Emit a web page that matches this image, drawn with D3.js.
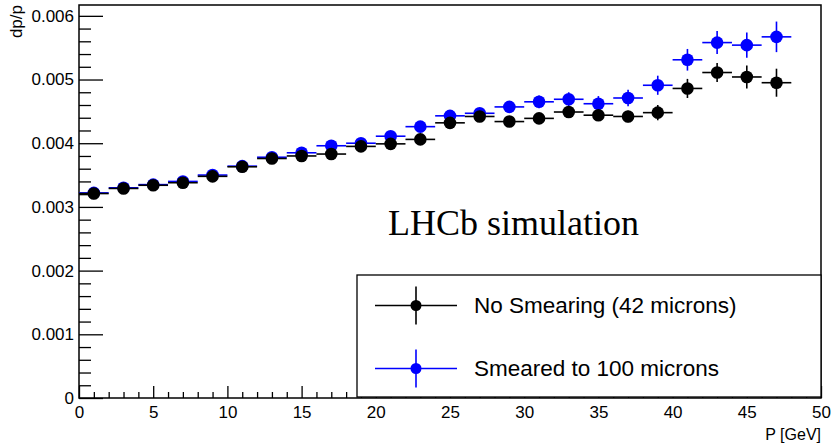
<!DOCTYPE html>
<html>
<head>
<meta charset="utf-8">
<script src="https://cdn.jsdelivr.net/npm/d3@7"></script>
<style>
  body { margin: 0; background: #fff; }
  svg { display: block; }
  .tick text { font-family: "Liberation Sans", Arial, sans-serif; fill: #000; }
</style>
</head>
<body>
<div id="chart"></div>
<script>
var width = 834;
var height = 445;

// bin centres (GeV), half width 1 GeV
var pCentres = [1, 3, 5, 7, 9, 11, 13, 15, 17, 19, 21, 23, 25, 27, 29, 31, 33, 35, 37, 39, 41, 43, 45, 47];

// No Smearing (42 microns)
var noSmear = [0.00321, 0.00329, 0.00334, 0.00338, 0.00348, 0.00363, 0.00376, 0.00380, 0.00383, 0.00395, 0.00399, 0.00406,
  0.00432, 0.00442, 0.00434, 0.00439, 0.00449, 0.00444, 0.00442, 0.00448, 0.00486, 0.00511, 0.00504, 0.00495];
var noSmearErr = [0.00002, 0.00002, 0.00002, 0.00003, 0.00003, 0.00003, 0.00004, 0.00004, 0.00004, 0.00005, 0.00005, 0.00005,
  0.00006, 0.00006, 0.00007, 0.00007, 0.00008, 0.00008, 0.00009, 0.00012, 0.00015, 0.00015, 0.00018, 0.00022];

// Smeared to 100 microns
var smeared = [0.00322, 0.00330, 0.00335, 0.00340, 0.00350, 0.00364, 0.00378, 0.00385, 0.00396, 0.00400, 0.00411, 0.00426,
  0.00443, 0.00447, 0.00457, 0.00465, 0.00469, 0.00462, 0.00471, 0.00491, 0.00531, 0.00558, 0.00554, 0.00567];
var smearedErr = [0.00002, 0.00002, 0.00003, 0.00003, 0.00003, 0.00004, 0.00004, 0.00005, 0.00005, 0.00006, 0.00006, 0.00007,
  0.00008, 0.00008, 0.00009, 0.00010, 0.00011, 0.00012, 0.00013, 0.00015, 0.00017, 0.00018, 0.00020, 0.00024];

var xMajor = [0, 5, 10, 15, 20, 25, 30, 35, 40, 45, 50];
var yMajor = [0, 0.001, 0.002, 0.003, 0.004, 0.005, 0.006];

var series = [
  { name: "Smeared to 100 microns", color: "#0000ff", vals: smeared, errs: smearedErr },
  { name: "No Smearing (42 microns)", color: "#000000", vals: noSmear, errs: noSmearErr }
];

var plotLeft = 79, plotRight = 821, plotTop = 5, plotBottom = 398;

var svg = d3.select("#chart").append("svg").attr("width", width).attr("height", height);

var x = d3.scaleLinear().domain([0, 50]).range([plotLeft, plotRight]);
var y = d3.scaleLinear().domain([0, 0.00617]).range([plotBottom, plotTop]);

var xMinor = d3.range(0, 51, 1).filter(function(d) { return d % 5 !== 0; });
var yMinor = d3.range(0, 31, 1).filter(function(i) { return i % 5 !== 0; })
  .map(function(i) { return i * 0.0002; })
  .filter(function(d) { return d < 0.00617; });

// minor ticks
svg.append("g").attr("transform", "translate(0," + plotBottom + ")")
  .call(d3.axisBottom(x).tickValues(xMinor).tickSizeInner(-6).tickSizeOuter(0).tickFormat(""));
svg.append("g").attr("transform", "translate(" + plotLeft + ",0)")
  .call(d3.axisLeft(y).tickValues(yMinor).tickSizeInner(-12).tickSizeOuter(0).tickFormat(""));

// major ticks + labels
var xAxis = svg.append("g").attr("transform", "translate(0," + plotBottom + ")")
  .call(d3.axisBottom(x).tickValues(xMajor).tickSizeInner(-12).tickSizeOuter(0).tickPadding(8));
xAxis.selectAll("text").style("font-size", "17px");

var yAxis = svg.append("g").attr("transform", "translate(" + plotLeft + ",0)")
  .call(d3.axisLeft(y).tickValues(yMajor).tickSizeInner(-24).tickSizeOuter(0).tickPadding(5)
    .tickFormat(function(d) { return d === 0 ? "0" : d3.format(".3f")(d); }));
yAxis.selectAll("text").style("font-size", "17px");

svg.selectAll(".tick line").attr("stroke", "#000").attr("stroke-width", 1.3);
svg.selectAll(".domain").remove();

// frame
svg.append("rect")
  .attr("x", plotLeft).attr("y", plotTop)
  .attr("width", plotRight - plotLeft).attr("height", plotBottom - plotTop)
  .attr("fill", "none").attr("stroke", "#000").attr("stroke-width", 1.5);

// axis titles
svg.append("text")
  .attr("transform", "translate(22," + plotTop + ")rotate(-90)")
  .attr("text-anchor", "end")
  .style("font-family", "Liberation Sans, Arial, sans-serif")
  .style("font-size", "17px")
  .text("dp/p");

svg.append("text")
  .attr("x", plotRight).attr("y", 440)
  .attr("text-anchor", "end")
  .style("font-family", "Liberation Sans, Arial, sans-serif")
  .style("font-size", "16px")
  .text("P [GeV]");

// data points with error bars
series.forEach(function(s) {
  var g = svg.append("g");
  var pts = pCentres.map(function(p, i) { return { p: p, v: s.vals[i], e: s.errs[i] }; });

  g.selectAll("line.h").data(pts).enter().append("line")
    .attr("x1", function(d) { return x(d.p - 1); })
    .attr("x2", function(d) { return x(d.p + 1); })
    .attr("y1", function(d) { return y(d.v); })
    .attr("y2", function(d) { return y(d.v); })
    .attr("stroke", s.color).attr("stroke-width", 1.6);

  g.selectAll("line.v").data(pts).enter().append("line")
    .attr("x1", function(d) { return x(d.p); })
    .attr("x2", function(d) { return x(d.p); })
    .attr("y1", function(d) { return y(d.v - d.e); })
    .attr("y2", function(d) { return y(d.v + d.e); })
    .attr("stroke", s.color).attr("stroke-width", 1.6);

  g.selectAll("circle").data(pts).enter().append("circle")
    .attr("cx", function(d) { return x(d.p); })
    .attr("cy", function(d) { return y(d.v); })
    .attr("r", 6.3)
    .attr("fill", s.color);
});

// LHCb label
svg.append("text")
  .attr("x", 388).attr("y", 235)
  .style("font-family", "Liberation Serif, Times New Roman, serif")
  .style("font-size", "36px")
  .text("LHCb simulation");

// legend
var leg = svg.append("g");
leg.append("rect")
  .attr("x", 357).attr("y", 275).attr("width", plotRight - 357).attr("height", plotBottom - 1 - 275)
  .attr("fill", "#fff").attr("stroke", "#000").attr("stroke-width", 1.3);

var legRows = [series[1], series[0]];
legRows.forEach(function(s, i) {
  var cy = 305.5 + i * 63;
  leg.append("line").attr("x1", 375).attr("x2", 457).attr("y1", cy).attr("y2", cy)
    .attr("stroke", s.color).attr("stroke-width", 1.6);
  leg.append("line").attr("x1", 416).attr("x2", 416).attr("y1", cy - 19).attr("y2", cy + 19)
    .attr("stroke", s.color).attr("stroke-width", 1.6);
  leg.append("circle").attr("cx", 416).attr("cy", cy).attr("r", 5.5).attr("fill", s.color);
  leg.append("text")
    .attr("x", 474).attr("y", cy).attr("dy", "0.35em")
    .style("font-family", "Liberation Sans, Arial, sans-serif")
    .style("font-size", "22.5px")
    .text(s.name);
});
</script>
</body>
</html>
